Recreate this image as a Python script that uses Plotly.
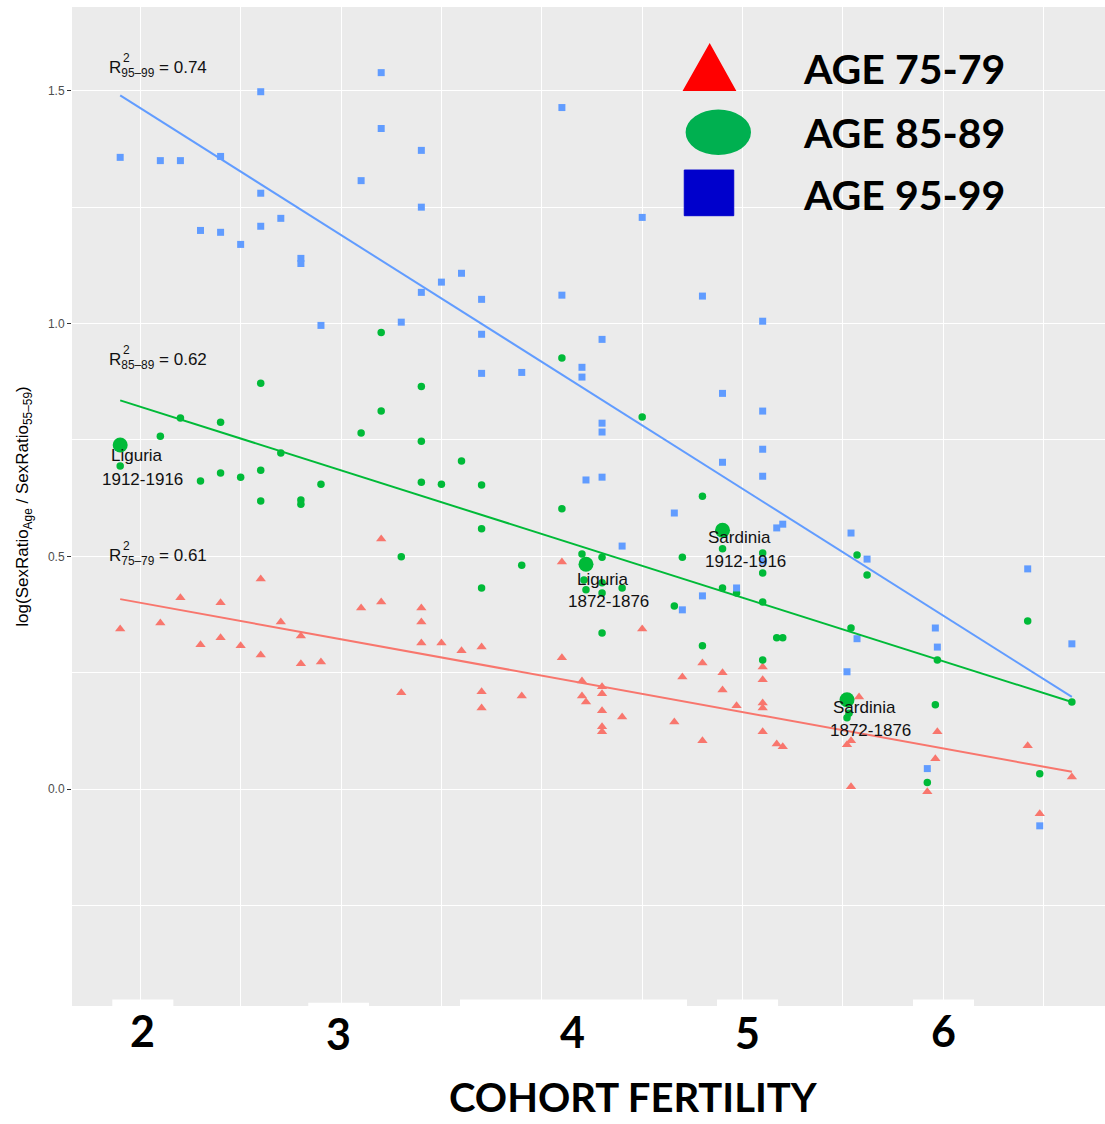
import plotly.graph_objects as go

# ---------------- data ----------------
x_95 = [1.90, 2.10, 2.20, 2.40, 2.60, 2.60, 2.30, 2.40, 2.50, 2.60, 2.70, 2.80, 2.80, 2.90, 3.10, 3.20,
        3.20, 3.30, 3.40, 3.40, 4.10, 4.50, 3.40, 3.50, 3.60, 3.70, 3.70, 3.70, 3.90, 4.10, 4.20, 4.20,
        4.30, 4.80, 5.10, 4.90, 5.10, 5.10, 4.90, 5.10, 4.30, 4.30, 4.22, 4.30, 4.66, 4.40, 5.17, 5.20,
        4.97, 4.80, 4.70, 5.10, 5.54, 5.62, 5.57, 5.52, 5.96, 5.97, 6.42, 6.64, 5.92, 6.48]
y_95 = [1.357, 1.350, 1.350, 1.359, 1.498, 1.280, 1.200, 1.196, 1.170, 1.209, 1.226, 1.140, 1.129, 0.996,
        1.307, 1.539, 1.419, 1.003, 1.372, 1.250, 1.464, 1.228, 1.067, 1.089, 1.108, 1.052, 0.977, 0.893,
        0.895, 1.061, 0.906, 0.885, 0.966, 1.059, 1.005, 0.850, 0.812, 0.730, 0.702, 0.672, 0.786, 0.767,
        0.664, 0.670, 0.593, 0.522, 0.561, 0.569, 0.432, 0.415, 0.385, 0.490, 0.550, 0.494, 0.323, 0.252,
        0.346, 0.305, 0.473, 0.312, 0.044, -0.079]

x_85 = [1.90, 2.10, 2.20, 2.40, 2.30, 2.40, 2.50, 2.60, 2.60, 2.60, 2.70, 2.80, 2.80, 2.90, 3.10, 3.20,
        3.20, 3.30, 3.40, 3.40, 3.40, 3.50, 3.60, 3.70, 3.70, 3.70, 3.90, 4.10, 4.10, 4.50, 4.20, 4.30,
        4.21, 4.22, 4.30, 4.30, 4.40, 4.30, 4.70, 4.80, 4.90, 5.10, 5.10, 4.90, 4.97, 4.66, 5.10, 4.80,
        5.17, 5.20, 5.10, 5.57, 5.62, 5.54, 5.97, 5.96, 5.53, 5.52, 5.92, 6.42, 6.48, 6.64]
y_85 = [0.694, 0.758, 0.797, 0.788, 0.662, 0.679, 0.670, 0.685, 0.619, 0.872, 0.722, 0.621, 0.612, 0.655,
        0.765, 0.812, 0.981, 0.499, 0.865, 0.747, 0.659, 0.655, 0.705, 0.653, 0.559, 0.432, 0.481, 0.926,
        0.602, 0.799, 0.505, 0.498, 0.449, 0.428, 0.443, 0.421, 0.432, 0.335, 0.498, 0.629, 0.516, 0.507,
        0.464, 0.432, 0.421, 0.393, 0.402, 0.308, 0.325, 0.325, 0.277, 0.503, 0.460, 0.346, 0.277, 0.181,
        0.163, 0.153, 0.014, 0.361, 0.033, 0.187]

x_75 = [1.90, 2.10, 2.20, 2.40, 2.30, 2.40, 2.50, 2.60, 2.60, 2.70, 2.80, 2.80, 2.90, 3.10, 3.20, 3.20,
        3.30, 3.40, 3.40, 3.40, 3.50, 3.60, 3.70, 3.70, 3.70, 3.90, 4.10, 4.10, 4.20, 4.20, 4.22, 4.30,
        4.30, 4.30, 4.40, 4.30, 4.30, 4.50, 4.66, 4.70, 4.80, 4.80, 4.90, 4.90, 4.97, 5.10, 5.10, 5.10,
        5.10, 5.10, 5.17, 5.20, 5.58, 5.52, 5.54, 5.54, 5.97, 5.96, 5.92, 6.42, 6.64, 6.48]
y_75 = [0.344, 0.357, 0.411, 0.400, 0.310, 0.325, 0.308, 0.451, 0.288, 0.359, 0.329, 0.269, 0.273, 0.389,
        0.537, 0.402, 0.207, 0.389, 0.359, 0.314, 0.314, 0.297, 0.305, 0.209, 0.174, 0.200, 0.488, 0.282,
        0.232, 0.200, 0.187, 0.220, 0.205, 0.168, 0.155, 0.134, 0.123, 0.344, 0.144, 0.241, 0.271, 0.104,
        0.250, 0.213, 0.179, 0.262, 0.235, 0.185, 0.174, 0.123, 0.097, 0.091, 0.198, 0.095, 0.104, 0.005,
        0.123, 0.065, -0.006, 0.093, 0.026, -0.053]

# highlighted cohorts (age 85-89)
hl_names = ["Liguria", "Liguria", "Sardinia", "Sardinia"]
hl_years = ["1912-1916", "1872-1876", "1912-1916", "1872-1876"]
hl_x = [1.90, 4.22, 4.90, 5.52]
hl_y = [0.739, 0.483, 0.556, 0.192]

# fitted regression lines (end points)
fit_x = [1.90, 6.64]
fit_95 = [1.490, 0.198]
fit_85 = [0.835, 0.187]
fit_75 = [0.408, 0.037]

r2_labels = ["95–99", "85–89", "75–79"]
r2_values = ["0.74", "0.62", "0.61"]

legend_labels = ["AGE 75-79", "AGE 85-89", "AGE 95-99"]
x_tick_labels = ["2", "3", "4", "5", "6"]

# ---------------- styling ----------------
C_RED, C_GREEN, C_BLUE = "#F8766D", "#00BA38", "#619CFF"
BASE = "Liberation Sans, Arial, sans-serif"
BIG = "Lato, sans-serif"

fig = go.Figure()

fig.add_trace(go.Scatter(x=x_75, y=y_75, mode="markers",
                         marker=dict(symbol="triangle-up", size=9, color=C_RED), showlegend=False))
fig.add_trace(go.Scatter(x=x_85, y=y_85, mode="markers",
                         marker=dict(symbol="circle", size=7.5, color=C_GREEN), showlegend=False))
fig.add_trace(go.Scatter(x=x_95, y=y_95, mode="markers",
                         marker=dict(symbol="square", size=7, color=C_BLUE), showlegend=False))

for fy, col in [(fit_95, C_BLUE), (fit_85, C_GREEN), (fit_75, C_RED)]:
    fig.add_trace(go.Scatter(x=fit_x, y=fy, mode="lines", line=dict(color=col, width=2),
                             showlegend=False))

fig.add_trace(go.Scatter(x=hl_x, y=hl_y, mode="markers",
                         marker=dict(symbol="circle", size=15, color=C_GREEN), showlegend=False))

annotations = []
# cohort labels (two lines each)
name_pos = [(1.984, 0.717), (4.305, 0.451), (4.985, 0.540), (5.608, 0.176)]
year_pos = [(2.011, 0.666), (4.330, 0.403), (5.013, 0.488), (5.635, 0.125)]
for i in range(len(hl_names)):
    annotations.append(dict(x=name_pos[i][0], y=name_pos[i][1], text=hl_names[i], showarrow=False,
                            font=dict(family=BASE, size=17, color="#111111"),
                            xanchor="center", yanchor="middle"))
    annotations.append(dict(x=year_pos[i][0], y=year_pos[i][1], text=hl_years[i], showarrow=False,
                            font=dict(family=BASE, size=17, color="#111111"),
                            xanchor="center", yanchor="middle"))

# R^2 labels
r2_y = [1.546, 0.919, 0.499]
for lab, val, yy in zip(r2_labels, r2_values, r2_y):
    annotations.append(dict(x=1.836, y=yy, text="R<sub>%s</sub> = %s" % (lab, val), showarrow=False,
                            font=dict(family=BASE, size=17, color="#111111"),
                            xanchor="left", yanchor="middle"))
    annotations.append(dict(x=1.904, y=yy + 0.024, text="2", showarrow=False,
                            font=dict(family=BASE, size=12, color="#111111"),
                            xanchor="left", yanchor="middle"))

# legend texts
leg_y = [0.9389, 0.8739, 0.8128]
for lab, yy in zip(legend_labels, leg_y):
    annotations.append(dict(xref="paper", yref="paper", x=0.7060, y=yy, text="<b>%s</b>" % lab,
                            showarrow=False, font=dict(family=BIG, size=41, color="black"),
                            xanchor="left", yanchor="middle"))

# big x tick labels
tick_x = [2.011, 2.989, 4.155, 5.025, 6.003]
tick_y = [-0.0245, -0.0275, -0.0255, -0.027, -0.025]
for t, xx, yy in zip(x_tick_labels, tick_x, tick_y):
    annotations.append(dict(xref="x", yref="paper", x=xx, y=yy, text="<b>%s</b>" % t, showarrow=False,
                            font=dict(family=BIG, size=43, color="black"),
                            xanchor="center", yanchor="middle"))

annotations.append(dict(xref="paper", yref="paper", x=0.5436, y=-0.0915, text="<b>COHORT FERTILITY</b>",
                        showarrow=False, font=dict(family=BIG, size=40, color="black"),
                        xanchor="center", yanchor="middle"))

shapes = []
# white patches under the panel
for x0, x1, y1 in [(0.0390, 0.0981, 0.0064), (0.2287, 0.2875, 0.0033), (0.3756, 0.5954, 0.0064),
                   (0.6244, 0.6835, 0.0064), (0.8141, 0.8732, 0.0064)]:
    shapes.append(dict(type="rect", xref="paper", yref="paper", x0=x0, x1=x1, y0=-0.01, y1=y1,
                       fillcolor="white", line=dict(width=0), layer="above"))
# legend glyphs
shapes.append(dict(type="path", xref="paper", yref="paper",
                   path="M 0.5927 0.9169 L 0.6173 0.9620 L 0.6415 0.9169 Z",
                   fillcolor="#FF0000", line=dict(color="#FF0000", width=2), layer="above"))
shapes.append(dict(type="circle", xref="paper", yref="paper", x0=0.5940, x1=0.6573, y0=0.8518, y1=0.8974,
                   fillcolor="#00B050", line=dict(width=0), layer="above"))
shapes.append(dict(type="rect", xref="paper", yref="paper", x0=0.5927, x1=0.6406, y0=0.7911, y1=0.8368,
                   fillcolor="#0000CC", line=dict(color="#0000CC", width=1), layer="above"))

fig.update_layout(
    width=1105, height=1124,
    margin=dict(l=72, r=0, t=7, b=118, pad=0),
    paper_bgcolor="white", plot_bgcolor="#EBEBEB",
    showlegend=False,
    annotations=annotations, shapes=shapes,
    xaxis=dict(range=[1.660, 6.805], tick0=2, dtick=1, showgrid=True, gridcolor="white", gridwidth=1.2,
               minor=dict(tick0=2, dtick=0.5, showgrid=True, gridcolor="white", gridwidth=0.6),
               showticklabels=False, ticks="", zeroline=False, showline=False),
    yaxis=dict(range=[-0.466, 1.680], tick0=0, dtick=0.5, tickformat=".1f", showgrid=True,
               gridcolor="white", gridwidth=1.2,
               minor=dict(tick0=0, dtick=0.25, showgrid=True, gridcolor="white", gridwidth=0.6),
               ticks="outside", ticklen=4, tickcolor="#333333", tickwidth=1,
               tickfont=dict(family=BASE, size=12, color="#4D4D4D"),
               zeroline=False, showline=False,
               title=dict(text="log(SexRatio<sub>Age</sub> / SexRatio<sub>55–59</sub>)",
                          font=dict(family=BASE, size=17, color="black"), standoff=14)),
)

fig.write_html("out.html")
